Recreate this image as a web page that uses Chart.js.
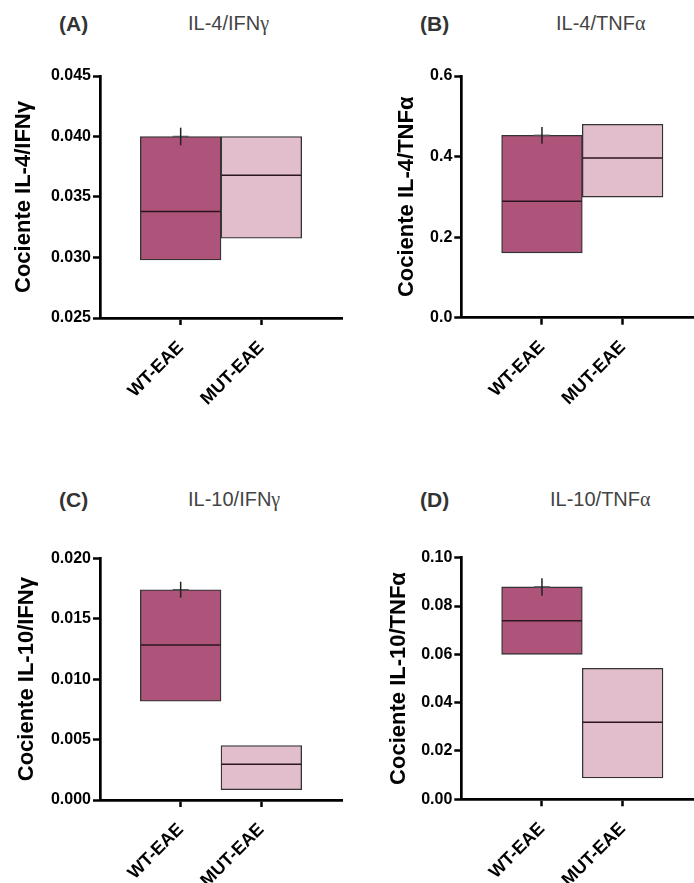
<!DOCTYPE html>
<html>
<head>
<meta charset="utf-8">
<script src="https://cdn.jsdelivr.net/npm/chart.js@4.4.1/dist/chart.umd.min.js"></script>
<style>
  html, body { margin: 0; padding: 0; background: #fff; overflow: hidden; width: 694px; height: 883px; }
  .box { position: absolute; }
  .lbl { position: absolute; font-family: 'Liberation Sans', Arial, sans-serif; line-height: 1; white-space: nowrap; }
  .letter { font-weight: bold; font-size: 21px; color: #333; }
  .ttl { font-size: 20px; color: #444; }
  .gk { font-family: 'Liberation Serif', 'DejaVu Serif', serif; }
</style>
</head>
<body>
<div class="lbl letter" style="left:59px; top:13px;">(A)</div>
<div class="lbl ttl" style="left:188px; top:13px;">IL-4/IFN<span class="gk">γ</span></div>
<div class="lbl letter" style="left:420px; top:13px;">(B)</div>
<div class="lbl ttl" style="left:556px; top:13px;">IL-4/TNF<span class="gk">α</span></div>
<div class="lbl letter" style="left:59px; top:489px;">(C)</div>
<div class="lbl ttl" style="left:188px; top:489px;">IL-10/IFN<span class="gk">γ</span></div>
<div class="lbl letter" style="left:420px; top:489px;">(D)</div>
<div class="lbl ttl" style="left:550px; top:489px;">IL-10/TNF<span class="gk">α</span></div>

<div class="box" id="bA"><canvas id="cA"></canvas></div>
<div class="box" id="bB"><canvas id="cB"></canvas></div>
<div class="box" id="bC"><canvas id="cC"></canvas></div>
<div class="box" id="bD"><canvas id="cD"></canvas></div>

<script>
// ---------------- DATA ----------------
const categories = ['WT-EAE', 'MUT-EAE'];

// Panel A: IL-4/IFNγ
const lowA = [0.0298, 0.0316];
const topA = [0.0400, 0.0400];
const medA = [0.0338, 0.0368];
const semA = [0.00073, null];
const yTicksA = ['0.025', '0.030', '0.035', '0.040', '0.045'];
const yTitleA = 'Cociente IL-4/IFNγ';

// Panel B: IL-4/TNFα
const lowB = [0.161, 0.2995];
const topB = [0.4526, 0.480];
const medB = [0.2888, 0.3963];
const semB = [0.0207, null];
const yTicksB = ['0.0', '0.2', '0.4', '0.6'];
const yTitleB = 'Cociente IL-4/TNFα';

// Panel C: IL-10/IFNγ
const lowC = [0.00818, 0.00085];
const topC = [0.0174, 0.0045];
const medC = [0.01282, 0.00296];
const semC = [0.00066, null];
const yTicksC = ['0.000', '0.005', '0.010', '0.015', '0.020'];
const yTitleC = 'Cociente IL-10/IFNγ';

// Panel D: IL-10/TNFα
const lowD = [0.0600, 0.00882];
const topD = [0.0879, 0.0542];
const medD = [0.0739, 0.0319];
const semD = [0.0036, null];
const yTicksD = ['0.00', '0.02', '0.04', '0.06', '0.08', '0.10'];
const yTitleD = 'Cociente IL-10/TNFα';

const fillColors = ['#AE5379', '#E2BECD'];

// ---------------- LAYOUT ----------------
const layouts = {
  A: { cl: 0,   ct: 40,  cw: 376, ch: 420, axisX: 100,   plotTop: 76,    plotBottom: 318,   plotRight: 342,   titleCx: 24 },
  B: { cl: 347, ct: 40,  cw: 391, ch: 420, axisX: 461.3, plotTop: 76,    plotBottom: 317.7, plotRight: 703.3, titleCx: 407 },
  C: { cl: 0,   ct: 520, cw: 376, ch: 420, axisX: 100,   plotTop: 558.3, plotBottom: 800,   plotRight: 342,   titleCx: 27 },
  D: { cl: 347, ct: 520, cw: 391, ch: 420, axisX: 461.3, plotTop: 557.7, plotBottom: 799.3, plotRight: 703.3, titleCx: 399 }
};

const FONT = "'Liberation Sans', Arial, sans-serif";

const overlayPlugin = {
  id: 'medianErr',
  afterDatasetsDraw(chart, args, opts) {
    const ctx = chart.ctx;
    const meta = chart.getDatasetMeta(0);
    const y = chart.scales.y;
    ctx.save();
    opts.med.forEach((m, i) => {
      const el = meta.data[i + 1];
      if (!el || m == null) return;
      const half = el.width / 2;
      const py = y.getPixelForValue(m);
      ctx.strokeStyle = '#2b1520';
      ctx.lineWidth = 1.5;
      ctx.beginPath();
      ctx.moveTo(el.x - half + 0.5, py);
      ctx.lineTo(el.x + half - 0.5, py);
      ctx.stroke();
      const e = opts.sem[i];
      if (e != null) {
        const t = opts.top[i];
        const ty = y.getPixelForValue(t);
        ctx.strokeStyle = '#555';
        ctx.lineWidth = 1.5;
        ctx.beginPath();
        ctx.moveTo(el.x - 8, ty);
        ctx.lineTo(el.x + 8, ty);
        ctx.stroke();
        ctx.strokeStyle = '#222';
        ctx.lineWidth = 1.5;
        ctx.beginPath();
        ctx.moveTo(el.x, y.getPixelForValue(t + e));
        ctx.lineTo(el.x, y.getPixelForValue(t - e));
        ctx.stroke();
      }
    });
    ctx.restore();
  }
};

function makePanel(key, low, top, med, sem, yTicks, yTitle) {
  const L = layouts[key];
  const box = document.getElementById('b' + key);
  box.style.left = L.cl + 'px';
  box.style.top = L.ct + 'px';
  box.style.width = L.cw + 'px';
  box.style.height = L.ch + 'px';
  const labels = [''].concat(categories, ['']);
  const data = [null].concat(categories.map((c, i) => [low[i], top[i]]), [null]);
  const colors = ['rgba(0,0,0,0)'].concat(fillColors, ['rgba(0,0,0,0)']);
  const tickVals = yTicks.map(parseFloat);
  const yWidth = L.axisX - L.cl;
  const xHeight = L.ct + L.ch - L.plotBottom;
  const titleFontSize = 22;
  new Chart(document.getElementById('c' + key), {
    type: 'bar',
    data: {
      labels: labels,
      datasets: [{
        data: data,
        backgroundColor: colors,
        borderColor: '#333',
        borderWidth: 1.3,
        borderSkipped: false,
        barPercentage: 1,
        categoryPercentage: 1
      }]
    },
    plugins: [overlayPlugin],
    options: {
      responsive: true,
      maintainAspectRatio: false,
      animation: false,
      events: [],
      layout: { padding: { top: L.plotTop - L.ct, right: L.cl + L.cw - L.plotRight, left: 0, bottom: 0 } },
      plugins: {
        legend: { display: false },
        tooltip: { enabled: false },
        title: { display: false },
        medianErr: { med: med, sem: sem, top: top }
      },
      scales: {
        x: {
          type: 'category',
          offset: false,
          grid: {
            offset: false,
            drawOnChartArea: false,
            drawTicks: true,
            tickLength: 7,
            tickWidth: 2.5,
            tickColor: (c) => (c.index === 0 || c.index === labels.length - 1) ? 'rgba(0,0,0,0)' : '#000'
          },
          border: { display: true, color: '#000', width: 2.7 },
          ticks: {
            autoSkip: false,
            maxRotation: 45,
            minRotation: 45,
            padding: 12,
            color: '#000',
            font: { family: FONT, size: 18, weight: 'bold' }
          },
          afterFit: (s) => { s.height = xHeight; }
        },
        y: {
          type: 'linear',
          min: tickVals[0],
          max: tickVals[tickVals.length - 1],
          afterBuildTicks: (s) => { s.ticks = tickVals.map(v => ({ value: v })); },
          grid: {
            drawOnChartArea: false,
            drawTicks: true,
            tickLength: 7,
            tickWidth: 2.5,
            tickColor: '#000'
          },
          border: { display: true, color: '#000', width: 2.7 },
          ticks: {
            padding: 2,
            color: '#000',
            font: { family: FONT, size: 16, weight: 'bold' },
            callback: (v) => {
              const idx = tickVals.findIndex(t => Math.abs(t - v) < 1e-9);
              return idx >= 0 ? yTicks[idx] : '';
            }
          },
          title: {
            display: true,
            text: yTitle,
            color: '#000',
            font: { family: FONT, size: titleFontSize, weight: 'bold' },
            padding: { top: L.titleCx - L.cl - titleFontSize * 0.6, bottom: 0 }
          },
          afterFit: (s) => { s.width = yWidth; }
        }
      }
    }
  });
}

makePanel('A', lowA, topA, medA, semA, yTicksA, yTitleA);
makePanel('B', lowB, topB, medB, semB, yTicksB, yTitleB);
makePanel('C', lowC, topC, medC, semC, yTicksC, yTitleC);
makePanel('D', lowD, topD, medD, semD, yTicksD, yTitleD);
</script>
</body>
</html>
